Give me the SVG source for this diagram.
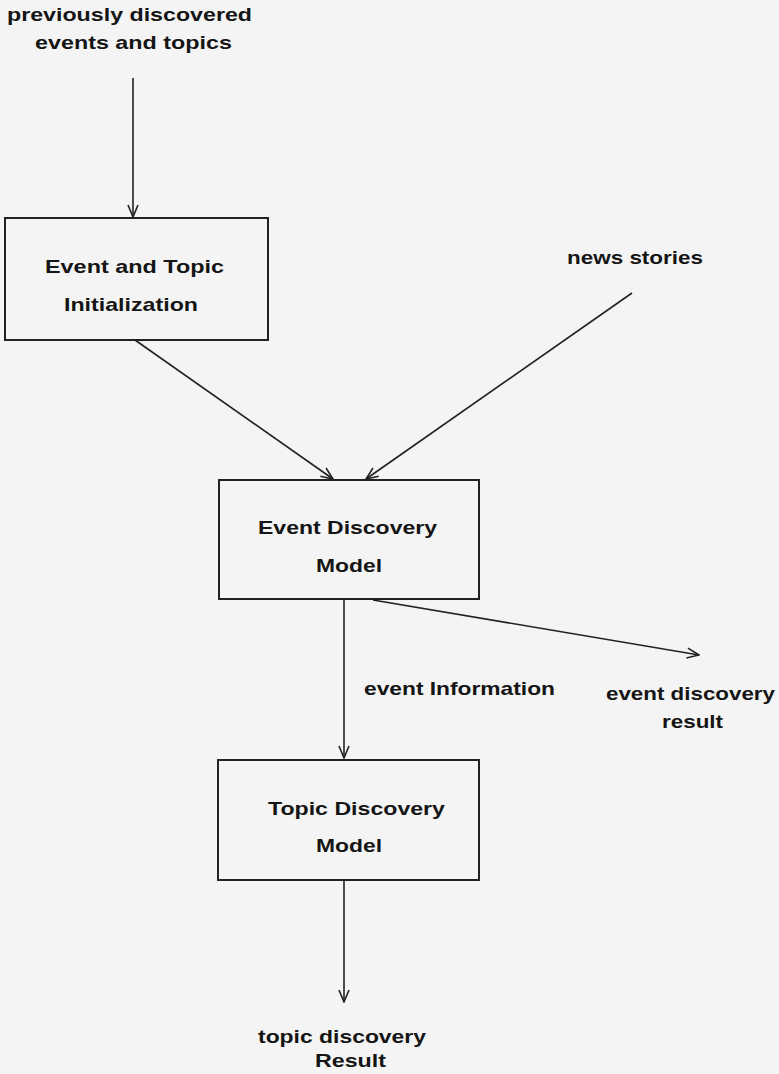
<svg xmlns="http://www.w3.org/2000/svg" width="779" height="1074" viewBox="0 0 779 1074">
<style>
  .lbl { font-family: "Liberation Sans", Arial, sans-serif; font-weight: bold; font-size: 19px; fill: #151515; }
  .box { fill: none; stroke: #222; stroke-width: 2; }
  .edge { stroke: #222; stroke-width: 1.6; fill: none; marker-end: url(#arr); }
</style>
<defs>
  <marker id="arr" markerUnits="userSpaceOnUse" markerWidth="14" markerHeight="12" viewBox="0 0 14 12" refX="13" refY="6" orient="auto">
    <path d="M1,1 L13,6 L1,11" fill="none" stroke="#222" stroke-width="1.6"/>
  </marker>
</defs>
<rect x="0" y="0" width="779" height="1074" fill="#f4f4f4"/>

<g id="connectors">
  <line class="edge" x1="133" y1="78" x2="133" y2="217"/>
  <line class="edge" x1="135" y1="340" x2="333" y2="479"/>
  <line class="edge" x1="632" y1="293" x2="366" y2="479"/>
  <line class="edge" x1="344" y1="599" x2="344" y2="758"/>
  <line class="edge" x1="373" y1="600" x2="699" y2="655"/>
  <line class="edge" x1="344" y1="880" x2="344" y2="1002"/>
</g>

<g id="input-previous">
  <text class="lbl" x="7" y="21" textLength="245" lengthAdjust="spacingAndGlyphs">previously discovered</text>
  <text class="lbl" x="35" y="49" textLength="197" lengthAdjust="spacingAndGlyphs">events and topics</text>
</g>

<g id="node-init">
  <rect class="box" x="5" y="218" width="263" height="122"/>
  <text class="lbl" x="45" y="273" textLength="179" lengthAdjust="spacingAndGlyphs">Event and Topic</text>
  <text class="lbl" x="64" y="311" textLength="134" lengthAdjust="spacingAndGlyphs">Initialization</text>
</g>

<g id="input-news">
  <text class="lbl" x="567" y="264" textLength="136" lengthAdjust="spacingAndGlyphs">news stories</text>
</g>

<g id="node-event">
  <rect class="box" x="219" y="480" width="260" height="119"/>
  <text class="lbl" x="258" y="534" textLength="179" lengthAdjust="spacingAndGlyphs">Event Discovery</text>
  <text class="lbl" x="316" y="572" textLength="66" lengthAdjust="spacingAndGlyphs">Model</text>
</g>

<g id="label-event-info">
  <text class="lbl" x="364" y="695" textLength="191" lengthAdjust="spacingAndGlyphs">event Information</text>
</g>

<g id="output-event">
  <text class="lbl" x="606" y="700" textLength="169" lengthAdjust="spacingAndGlyphs">event discovery</text>
  <text class="lbl" x="662" y="728" textLength="61" lengthAdjust="spacingAndGlyphs">result</text>
</g>

<g id="node-topic">
  <rect class="box" x="218" y="760" width="261" height="120"/>
  <text class="lbl" x="268" y="815" textLength="177" lengthAdjust="spacingAndGlyphs">Topic Discovery</text>
  <text class="lbl" x="316" y="852" textLength="66" lengthAdjust="spacingAndGlyphs">Model</text>
</g>

<g id="output-topic">
  <text class="lbl" x="258" y="1043" textLength="168" lengthAdjust="spacingAndGlyphs">topic discovery</text>
  <text class="lbl" x="315" y="1067" textLength="71" lengthAdjust="spacingAndGlyphs">Result</text>
</g>
</svg>
